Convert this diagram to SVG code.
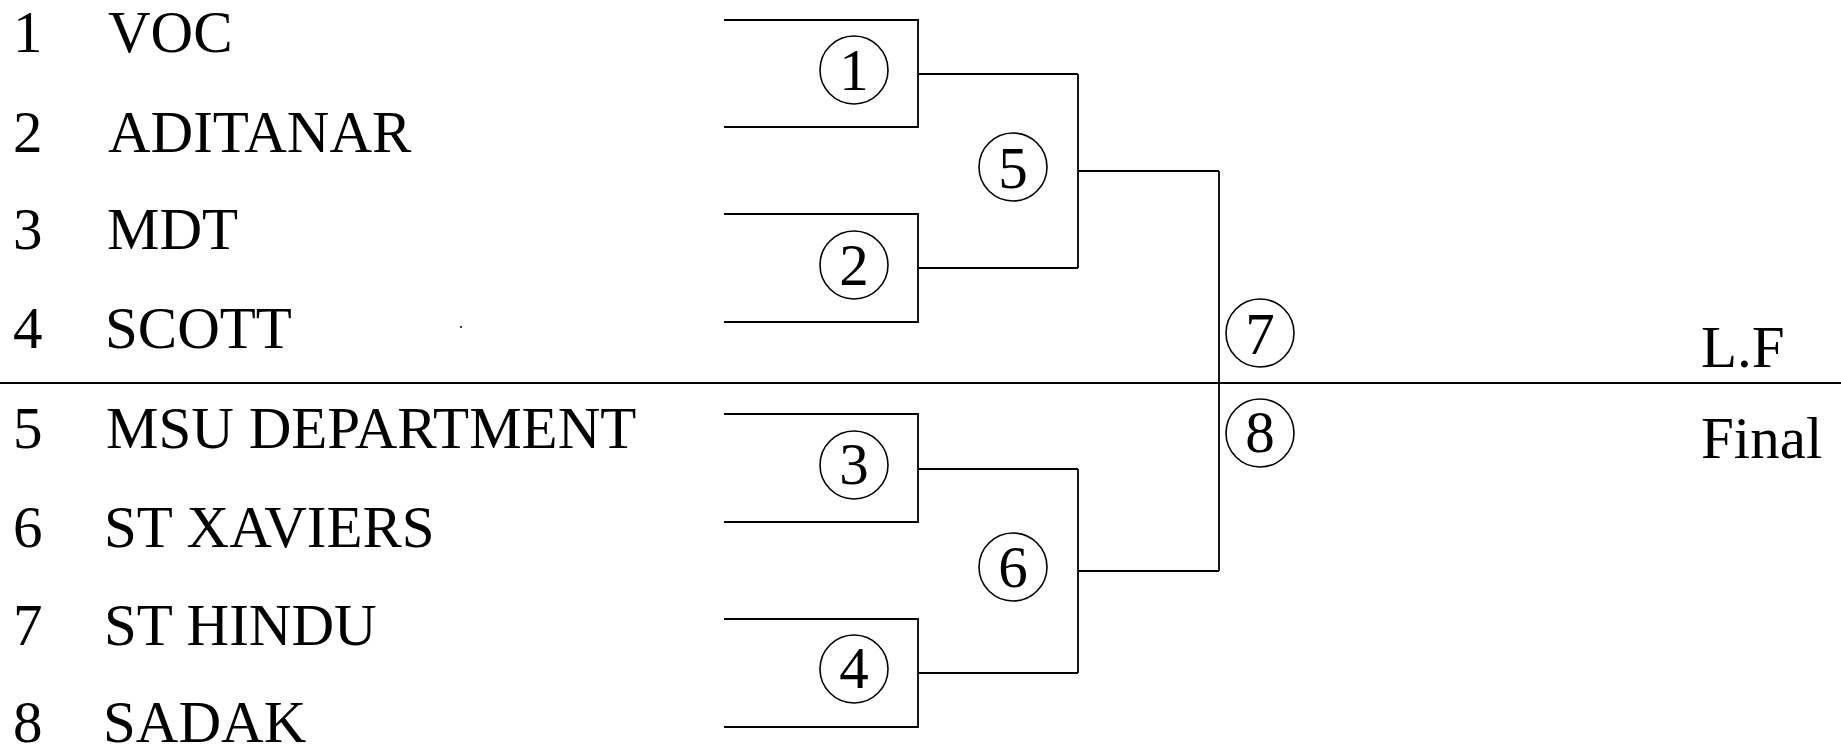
<svg xmlns="http://www.w3.org/2000/svg" width="1841" height="745" viewBox="0 0 1841 745">
<style>
text{font-family:"Liberation Serif","Times New Roman",serif;font-size:59px;fill:#000}
.c{text-anchor:middle}
.ln{fill:none;stroke:#000;stroke-width:1.8}
.ell{fill:none;stroke:#000;stroke-width:1.6}
</style>
<rect width="1841" height="745" fill="#fff"/>
<g id="teams">
<g id="team1"><text x="13" y="52">1</text><text x="108" y="52">VOC</text></g>
<g id="team2"><text x="13" y="152">2</text><text x="108" y="152">ADITANAR</text></g>
<g id="team3"><text x="13" y="249">3</text><text x="107" y="249">MDT</text></g>
<g id="team4"><text x="13" y="348">4</text><text x="105" y="348">SCOTT</text></g>
<g id="team5"><text x="13" y="448">5</text><text x="106" y="448">MSU DEPARTMENT</text></g>
<g id="team6"><text x="13" y="547">6</text><text x="104" y="547">ST XAVIERS</text></g>
<g id="team7"><text x="13" y="645">7</text><text x="104" y="645">ST HINDU</text></g>
<g id="team8"><text x="13" y="742">8</text><text x="103" y="742">SADAK</text></g>
</g>
<circle cx="461" cy="327" r="1" fill="#000"/>
<g id="connectors">
<line x1="0" y1="383" x2="1841" y2="383" stroke="#000" stroke-width="2.2"/>
<path class="ln" d="M724 20H918V127H724M918 74H1078M724 214H918V322H724M918 268H1078M1078 74V268M1078 171H1219"/>
<path class="ln" d="M724 414H918V522H724M918 469H1078M724 619H918V727H724M918 673H1078M1078 469V673M1078 571H1219M1219 171V571"/>
</g>
<g id="m1"><circle class="ell" cx="854" cy="70" r="34"/><text class="c" x="854" y="90">1</text></g>
<g id="m2"><circle class="ell" cx="854" cy="265" r="34"/><text class="c" x="854" y="285">2</text></g>
<g id="m3"><circle class="ell" cx="854" cy="465" r="34"/><text class="c" x="854" y="484">3</text></g>
<g id="m4"><circle class="ell" cx="854" cy="669" r="34"/><text class="c" x="854" y="688">4</text></g>
<g id="m5"><circle class="ell" cx="1013" cy="167" r="34"/><text class="c" x="1013" y="188">5</text></g>
<g id="m6"><circle class="ell" cx="1013" cy="567" r="34"/><text class="c" x="1013" y="587">6</text></g>
<g id="m7"><circle class="ell" cx="1260" cy="333" r="34"/><text class="c" x="1260" y="354">7</text></g>
<g id="m8"><circle class="ell" cx="1260" cy="433" r="34"/><text class="c" x="1260" y="452">8</text></g>
<g id="labels">
<text x="1701" y="367">L.F</text>
<text x="1701" y="458">Final</text>
</g>
</svg>
